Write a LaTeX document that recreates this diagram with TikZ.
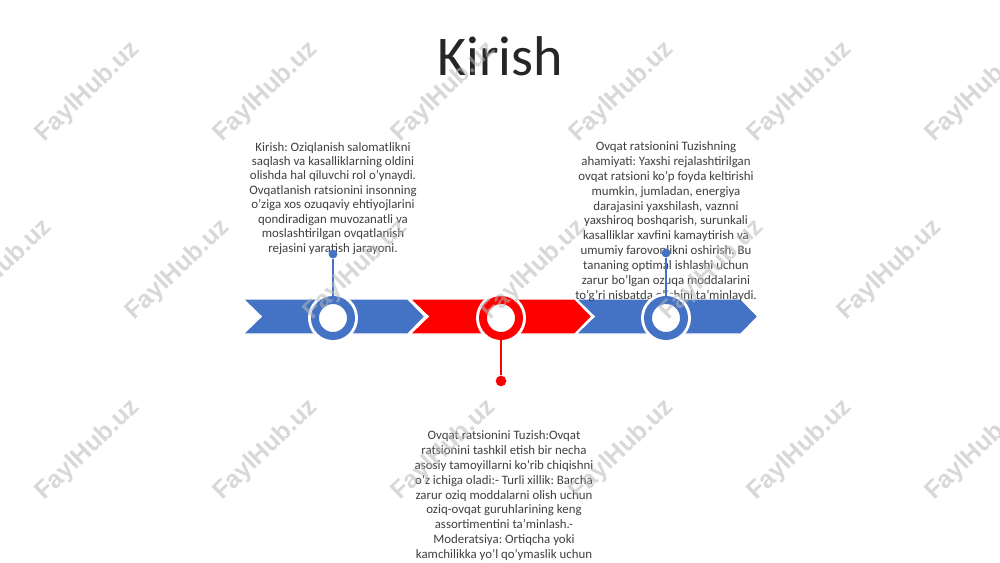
\documentclass[tikz,border=0pt]{standalone}
\usepackage{fontspec}
\setmainfont{Carlito}
\newfontfamily\wmfont{Liberation Sans}
\usetikzlibrary{positioning}
\frenchspacing
\definecolor{bluec}{HTML}{4472C4}
\definecolor{redc}{HTML}{FF0000}
\definecolor{textc}{HTML}{404040}
\tikzset{
  ring/.style={circle, inner sep=0pt, minimum size=12.2mm, fill=white,
    draw=#1, line width=2.7mm, preaction={draw=white, line width=4.7mm}},
  pindot/.style={circle, inner sep=0pt, minimum size=#1, fill},
  pinline/.style={line width=0.7mm},
  infotext/.style={align=center, inner sep=0pt, anchor=north, text=textc},
  watermark/.style={font=\wmfont\bfseries\fontsize{24}{24}\selectfont,
    rotate=44, text=black!28, text opacity=0.55}
}
\begin{document}
\begin{tikzpicture}[x=0.3387mm,y=-0.3387mm]
  \useasboundingbox (0,0) rectangle (1000,562);
  \fill[white] (0,0) rectangle (1000,562);
  %title
  \node[font=\fontsize{54}{60}\selectfont, text=black!85, anchor=base] (title) at (500,75) {Kirish};
  %draw the chevrons
  \foreach \x/\c in {243/bluec, 410/redc, 576/bluec}
    \filldraw[fill=\c, draw=white, line width=0.5mm] (\x,299) -- ++(165,0) -- ++(17,17.5)
      -- ++(-17,17.5) -- ++(-165,0) -- ++(18,-17.5) -- cycle;
  %texts
  \node[infotext, font=\fontsize{12.4}{13.9}\selectfont] (intro) at (333,142)
  {Kirish: Oziqlanish salomatlikni\\saqlash va kasalliklarning oldini\\olishda hal qiluvchi rol o'ynaydi.\\
   Ovqatlanish ratsionini insonning\\o'ziga xos ozuqaviy ehtiyojlarini\\qondiradigan muvozanatli va\\
   moslashtirilgan ovqatlanish\\rejasini yaratish jarayoni.};
  \node[infotext, font=\fontsize{12.4}{14.3}\selectfont] (tuzish) at (504,430.5)
  {Ovqat ratsionini Tuzish:Ovqat\\ratsionini tashkil etish bir necha\\asosiy tamoyillarni ko'rib chiqishni\\
   o'z ichiga oladi:- Turli xillik: Barcha\\zarur oziq moddalarni olish uchun\\oziq-ovqat guruhlarining keng\\
   assortimentini ta'minlash.-\\Moderatsiya: Ortiqcha yoki\\kamchilikka yo'l qo'ymaslik uchun};
  \node[infotext, font=\fontsize{12.4}{14.3}\selectfont] (ahamiyat) at (666,141.5)
  {Ovqat ratsionini Tuzishning\\ahamiyati: Yaxshi rejalashtirilgan\\ovqat ratsioni ko'p foyda keltirishi\\
   mumkin, jumladan, energiya\\darajasini yaxshilash, vaznni\\yaxshiroq boshqarish, surunkali\\
   kasalliklar xavfini kamaytirish va\\umumiy farovonlikni oshirish. Bu\\tananing optimal ishlashi uchun\\
   zarur bo'lgan ozuqa moddalarini\\to'g'ri nisbatda olishini ta'minlaydi.};
  %rings on the timeline
  \node[ring=bluec] (ring1) at (333,318) {};
  \node[ring=redc] (ring2) at (501,318) {};
  \node[ring=bluec] (ring3) at (666,318) {};
  %pins
  \node[pindot=3mm, bluec] (pin1) at (333,254) {};
  \node[pindot=3.6mm, redc] (pin2) at (501,381) {};
  \node[pindot=3mm, bluec] (pin3) at (666,253) {};
  \draw[pinline, bluec] (pin1) -- (ring1.north);
  \draw[pinline, redc] (ring2.south) -- (pin2);
  \draw[pinline, bluec] (pin3) -- (ring3.north);
  %watermarks
  \foreach \i in {0,...,5} {
    \node[watermark] (wma\i) at (88+178*\i,92) {FaylHub.uz};
    \node[watermark] (wmb\i) at (178*\i,270) {FaylHub.uz};
    \node[watermark] (wmc\i) at (88+178*\i,450) {FaylHub.uz};
  }
\end{tikzpicture}
\end{document}
